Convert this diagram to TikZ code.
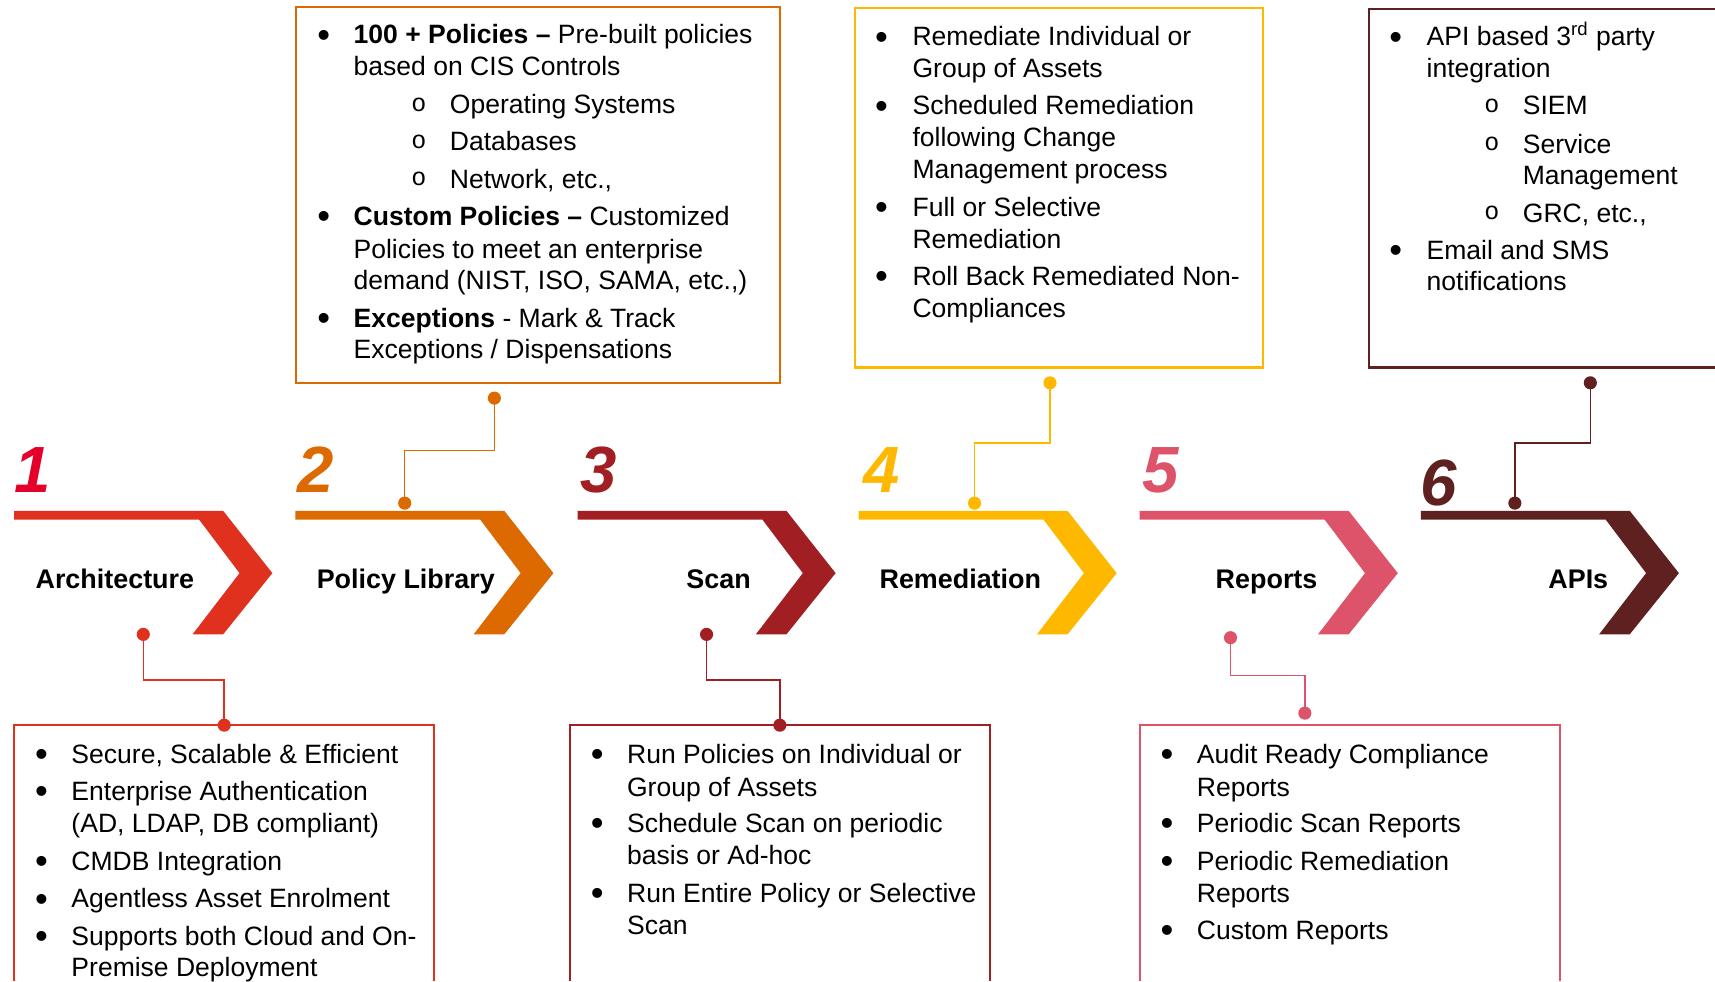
\documentclass[tikz,border=0pt]{standalone}
\usepackage{fontspec}
\setmainfont{Liberation Sans}
\newfontfamily\monofnt{Liberation Mono}
\usetikzlibrary{calc,positioning}

\definecolor{archred}{HTML}{E0301E}
\definecolor{numred}{HTML}{E4002B}
\definecolor{polorange}{HTML}{DC6A00}
\definecolor{scanred}{HTML}{A11F22}
\definecolor{remamber}{HTML}{FFB800}
\definecolor{reppink}{HTML}{DD5369}
\definecolor{apimaroon}{HTML}{5F2120}

\tikzset{
    num/.style={font=\fontsize{34}{34}\selectfont\bfseries\itshape, anchor=base, inner sep=0},
    stage/.style={font=\fontsize{14}{16}\selectfont\bfseries, anchor=base, inner sep=0},
    txt/.style={font=\fontsize{13.8}{16.5}\selectfont, anchor=base west, inner sep=0},
    bul/.style={font=\fontsize{19}{20}\selectfont, anchor=base, inner sep=0, yshift=-0.6mm},
    subbul/.style={font=\monofnt\fontsize{13}{15}\selectfont, anchor=base, inner sep=0, yshift=0.5mm},
    frame/.style={draw=#1, line width=1.1pt},
    dot/.style={circle, fill=#1, inner sep=0, minimum size=2.4mm},
    link/.style={draw=#1, line width=0.8pt}
}

\begin{document}
\begin{tikzpicture}[x=0.2mm, y=-0.2mm]
    \useasboundingbox (0,0) rectangle (1568,897);

    \foreach \x/\c in {13/archred, 270/polorange, 528/scanred, 785/remamber, 1042/reppink, 1299/apimaroon}
        \fill[\c] (\x,467) -- ++(191,0) -- ++(45,57) -- ++(-45,56) -- ++(-28,0)
            -- ++(43,-56) -- ++(-37,-49) -- (\x,475) -- cycle;

    \node[num, text=numred] (n1) at (30,450) {1};
    \node[num, text=polorange] (n2) at (289,450) {2};
    \node[num, text=scanred] (n3) at (547,450) {3};
    \node[num, text=remamber] (n4) at (806,450) {4};
    \node[num, text=reppink] (n5) at (1061,450) {5};
    \node[num, text=apimaroon] (n6) at (1315,462) {6};

    \node[stage] (arch) at (105,538) {Architecture};
    \node[stage] (poli) at (371,538) {Policy Library};
    \node[stage] (scan) at (657,538) {Scan};
    \node[stage] (reme) at (878,538) {Remediation};
    \node[stage] (repo) at (1158,538) {Reports};
    \node[stage] (apis) at (1443,538) {APIs};

    \draw[frame=polorange] (271,6) rectangle (713,350);
    \draw[frame=remamber] (782,7) rectangle (1155,336);
    \draw[frame=apimaroon] (1568,8) -| (1252,336) -- (1568,336);
    \draw[frame=archred] (13,897) |- (397,663) -- (397,897);
    \draw[frame=scanred] (521,897) |- (905,663) -- (905,897);
    \draw[frame=reppink] (1042,897) |- (1426,663) -- (1426,897);

    \foreach \x/\y/\t [count=\i] in {
        323/40/{\textbf{100 + Policies –} Pre-built policies},
        323/69/{based on CIS Controls},
        411/104/{Operating Systems},
        411/138/{Databases},
        411/172/{Network, etc.,},
        323/206/{\textbf{Custom Policies –} Customized},
        323/236/{Policies to meet an enterprise},
        323/265/{demand (NIST, ISO, SAMA, etc.,)},
        323/299/{\textbf{Exceptions} - Mark \& Track},
        323/328/{Exceptions / Dispensations}}
        \node[txt] (pol\i) at (\x,\y) {\t};
    \foreach \y [count=\i] in {40,206,299}
        \node[bul] (polb\i) at (296,\y) {•};
    \foreach \y [count=\i] in {104,138,172}
        \node[subbul] (polo\i) at (383,\y) {o};

    \foreach \y/\t [count=\i] in {
        42/{Remediate Individual or},
        71/{Group of Assets},
        105/{Scheduled Remediation},
        134/{following Change},
        163/{Management process},
        198/{Full or Selective},
        227/{Remediation},
        261/{Roll Back Remediated Non-},
        290/{Compliances}}
        \node[txt] (rem\i) at (834,\y) {\t};
    \foreach \y [count=\i] in {42,105,198,261}
        \node[bul] (remb\i) at (806,\y) {•};

    \foreach \x/\y/\t [count=\i] in {
        1304/42/{API based 3\textsuperscript{rd} party},
        1304/71/{integration},
        1392/105/{SIEM},
        1392/140/{Service},
        1392/169/{Management},
        1392/203/{GRC, etc.,},
        1304/237/{Email and SMS},
        1304/266/{notifications}}
        \node[txt] (api\i) at (\x,\y) {\t};
    \foreach \y [count=\i] in {42,237}
        \node[bul] (apib\i) at (1276,\y) {•};
    \foreach \y [count=\i] in {105,140,203}
        \node[subbul] (apio\i) at (1364,\y) {o};

    \foreach \y/\t [count=\i] in {
        698/{Secure, Scalable \& Efficient},
        732/{Enterprise Authentication},
        761/{(AD, LDAP, DB compliant)},
        796/{CMDB Integration},
        830/{Agentless Asset Enrolment},
        864/{Supports both Cloud and On-},
        893/{Premise Deployment}}
        \node[txt] (arc\i) at (65,\y) {\t};
    \foreach \y [count=\i] in {698,732,796,830,864}
        \node[bul] (arcb\i) at (38,\y) {•};

    \foreach \y/\t [count=\i] in {
        698/{Run Policies on Individual or},
        728/{Group of Assets},
        761/{Schedule Scan on periodic},
        790/{basis or Ad-hoc},
        825/{Run Entire Policy or Selective},
        854/{Scan}}
        \node[txt] (scn\i) at (573,\y) {\t};
    \foreach \y [count=\i] in {698,761,825}
        \node[bul] (scnb\i) at (546,\y) {•};

    \foreach \y/\t [count=\i] in {
        698/{Audit Ready Compliance},
        728/{Reports},
        761/{Periodic Scan Reports},
        796/{Periodic Remediation},
        825/{Reports},
        859/{Custom Reports}}
        \node[txt] (rep\i) at (1094,\y) {\t};
    \foreach \y [count=\i] in {698,761,796,859}
        \node[bul] (repb\i) at (1067,\y) {•};

    \node[dot=archred] (a1) at (131,580) {};
    \node[dot=archred] (a2) at (205,663) {};
    \node[dot=polorange] (p1) at (452,364) {};
    \node[dot=polorange] (p2) at (370,460) {};
    \node[dot=scanred] (s1) at (646,580) {};
    \node[dot=scanred] (s2) at (713,663) {};
    \node[dot=remamber] (r1) at (960,350) {};
    \node[dot=remamber] (r2) at (891,460) {};
    \node[dot=reppink] (e1) at (1125,583) {};
    \node[dot=reppink] (e2) at (1193,652) {};
    \node[dot=apimaroon] (i1) at (1454,350) {};
    \node[dot=apimaroon] (i2) at (1385,460) {};

    \draw[link=archred] (a1.center) |- ($(a1)!.5!(a2)$) -| (a2.center);
    \draw[link=polorange] (p1.center) |- ($(p1)!.5!(p2)$) -| (p2.center);
    \draw[link=scanred] (s1.center) |- ($(s1)!.5!(s2)$) -| (s2.center);
    \draw[link=remamber] (r1.center) |- ($(r1)!.5!(r2)$) -| (r2.center);
    \draw[link=reppink] (e1.center) |- ($(e1)!.5!(e2)$) -| (e2.center);
    \draw[link=apimaroon] (i1.center) |- ($(i1)!.5!(i2)$) -| (i2.center);
\end{tikzpicture}
\end{document}
